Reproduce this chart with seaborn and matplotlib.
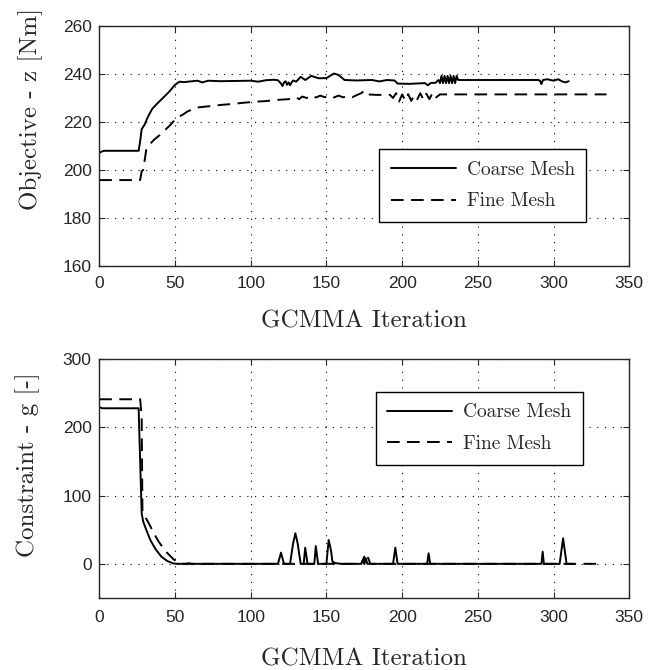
import numpy as np
import pandas as pd
import seaborn as sns
import matplotlib.pyplot as plt

# objective, coarse mesh
obj_coarse_x = [0, 1, 3, 26, 27, 28, 30, 32, 35, 38, 42, 46, 50, 53, 56, 60, 65, 68, 72, 80, 90, 100,
                105, 110, 115, 118, 120, 121, 122, 123, 124, 125, 126, 127, 128, 130, 133, 136, 140,
                145, 150, 155, 158, 162, 170, 180, 185, 190, 195, 197, 205, 215, 217, 219, 222, 224,
                225, 226, 227, 228, 229, 230, 231, 232, 233, 234, 235, 236, 237, 250, 270, 290, 291,
                292, 293, 296, 300, 303, 306, 308, 310]
obj_coarse_y = [207, 207.5, 208, 208, 212, 217, 219, 222, 225.5, 227.5, 230, 232.5, 235.5, 236.8,
                236.6, 236.9, 237.2, 236.5, 237.2, 237, 237.1, 237.2, 236.8, 237.4, 237.6, 237.4, 236,
                235, 236.5, 237, 235.5, 236.5, 235.3, 236.5, 237.3, 236.8, 238.8, 237.5, 239.2, 238.2,
                238.3, 240.2, 239.6, 237.5, 237.3, 237.5, 236.9, 237.5, 237.3, 236.0, 235.9, 236.2,
                235.3, 236.3, 236.3, 237.5, 236.2, 239.2, 236.2, 239.2, 236.2, 239.2, 236.2, 239.2,
                236.2, 239.2, 236.2, 239.2, 237.5, 237.5, 237.5, 237.5, 237.2, 235.8, 237.5, 237.8,
                237.2, 237.8, 236.8, 236.5, 237]

# objective, fine mesh
obj_fine_x = [0, 27, 28, 29, 31, 33, 36, 40, 44, 47, 51, 55, 58, 64, 70, 75, 80, 88, 95, 104, 110,
              117, 125, 130, 132, 134, 137, 140, 143, 146, 149, 152, 155, 158, 161, 164, 167, 170,
              173, 175, 177, 183, 192, 194, 196, 198, 200, 202, 204, 206, 208, 210, 212, 214, 216,
              218, 220, 222, 225, 335]
obj_fine_y = [195.8, 195.8, 199.5, 200, 208.3, 210.5, 212.5, 214.6, 217, 218.8, 221.7, 223, 224.3,
              226, 226.4, 226.7, 227.1, 227.5, 228, 228.5, 228.7, 229.2, 229.5, 230.3, 229.5, 230.6,
              230, 231, 230.2, 231, 230.3, 231, 230.2, 231, 230.3, 230.8, 230.3, 231.2, 232, 233,
              231.5, 231.3, 231.3, 230, 232, 228.5, 231.5, 229, 231.6, 228.8, 231.2, 229.5, 232,
              229.3, 231.8, 229.5, 232, 230, 231.5, 231.5]

# constraint, coarse mesh
con_coarse_x = [0, 2, 26, 27, 28, 29, 31, 33.7, 37, 41, 45, 49, 52, 57, 59, 61, 118, 120, 122, 126,
                128, 129.5, 131, 133, 135, 136, 137.5, 142, 143, 144.5, 150, 151.5, 153, 154, 156,
                160, 173, 174, 175, 176, 177, 194, 195.5, 197, 216.5, 217.5, 218.5, 292, 292.8,
                293.6, 304, 306.3, 308.6, 313]
con_coarse_y = [229.5, 227.8, 227.8, 150, 74, 62, 50, 35, 22, 10.5, 4, 0.5, 0, 0, 0.8, 0, 0, 16.4,
                0, 0, 30, 44.8, 30, 0, 0, 23.7, 0, 0, 26, 0, 0, 34.9, 20, 3, 1, 0, 0, 5, 0, 8, 0,
                0, 23.7, 0, 0, 15.5, 0, 0, 17.8, 0, 0, 37.4, 0, 0]

# constraint, fine mesh
con_fine_x = [0, 27, 28, 28.5, 30, 32.6, 36, 39.2, 44, 49, 53, 56, 173, 175, 176, 177.5, 179, 329]
con_fine_y = [241, 241, 215, 78.6, 70, 59.8, 45, 32.5, 18, 6.7, 0.5, 0, 0, 10.5, 0, 9, 0, 0]

labels = ['Coarse Mesh', 'Fine Mesh']

sns.set_style('ticks')
plt.rcParams['font.family'] = ['Liberation Sans', 'DejaVu Sans']
plt.rcParams['axes.unicode_minus'] = False
serif = ['cmr10', 'DejaVu Serif']

fig = plt.figure(figsize=(6.57, 6.70), dpi=100)
ax1 = fig.add_axes([0.1511, 0.603, 0.8067, 0.3582])
ax2 = fig.add_axes([0.1511, 0.1075, 0.8067, 0.3567])


def make_df(xc, yc, xf, yf):
    a = pd.DataFrame({'it': xc, 'val': yc, 'mesh': labels[0]})
    b = pd.DataFrame({'it': xf, 'val': yf, 'mesh': labels[1]})
    return pd.concat([a, b], ignore_index=True)


obj = make_df(obj_coarse_x, obj_coarse_y, obj_fine_x, obj_fine_y)
con = make_df(con_coarse_x, con_coarse_y, con_fine_x, con_fine_y)

setup = [
    # ax, data, ylim, yticks, ylabel, legend corner, xlabel y, ylabel (x, y), x tick pad
    (ax1, obj, (160, 260), np.arange(160, 261, 20), 'Objective - z [Nm]', (0.528, 0.486),
     -0.233, (-0.13, 0.654), 7),
    (ax2, con, (-50, 300), [0, 100, 200, 300], 'Constraint - g [-]', (0.5215, 0.863),
     -0.259, (-0.136, 0.556), 8.5),
]

for ax, df, ylim, yticks, ylab, leg_anchor, xl_y, yl_xy, xpad in setup:
    sns.lineplot(data=df, x='it', y='val', style='mesh', estimator=None, sort=False,
                 color='black', linewidth=1.4,
                 dashes={labels[0]: '', labels[1]: (6.5, 3.8)}, ax=ax, legend=False)
    ax.set_xlim(0, 350)
    ax.set_ylim(*ylim)
    ax.set_xticks(np.arange(0, 351, 50))
    ax.set_yticks(yticks)
    ax.grid(True, linestyle=(0, (1, 6)), color='black', linewidth=0.8)
    ax.tick_params(direction='in', top=True, right=True, labelsize=12.5, length=4, width=0.8)
    ax.tick_params(axis='x', pad=xpad)
    ax.tick_params(axis='y', pad=5.5)
    for s in ax.spines.values():
        s.set_linewidth(1.0)
    ax.set_xlabel('GCMMA Iteration', family=serif, fontsize=18)
    ax.set_ylabel(ylab, family=serif, fontsize=18)
    ax.xaxis.label.set_va('center')
    ax.yaxis.label.set_va('center')
    ax.xaxis.set_label_coords(0.5, xl_y)
    ax.yaxis.set_label_coords(*yl_xy)
    handles = ax.get_lines()[:2]
    leg = ax.legend(handles, labels, loc='upper left', bbox_to_anchor=leg_anchor,
                    borderaxespad=0, fancybox=False, framealpha=1, edgecolor='black',
                    handlelength=3.35, borderpad=0.6, labelspacing=0.7, handletextpad=0.55,
                    prop={'family': serif, 'size': 14})
    leg.get_frame().set_linewidth(1.0)

fig.savefig('out.png', dpi=100)
